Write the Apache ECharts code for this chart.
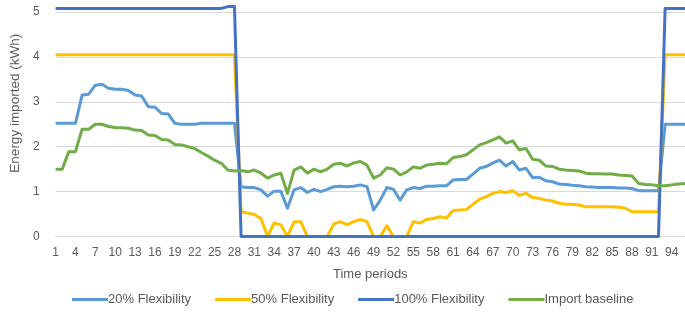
<!DOCTYPE html>
<html>
<head>
<meta charset="utf-8">
<script src="https://cdn.jsdelivr.net/npm/echarts@6/dist/echarts.min.js"></script>
<style>html,body{margin:0;padding:0;background:#fff}#c{width:685px;height:315px}</style>
</head>
<body>
<div id="c"></div>
<script>
const periods = Array.from({length: 96}, (_, i) => String(i + 1));
const yTicks = [0, 1, 2, 3, 4, 5];
const seriesNames = ['20% Flexibility', '50% Flexibility', '100% Flexibility', 'Import baseline'];

const flex20 = [
  2.52, 2.52, 2.52, 2.52, 3.15, 3.17, 3.37, 3.39, 3.30, 3.28,
  3.28, 3.25, 3.15, 3.13, 2.89, 2.88, 2.74, 2.73, 2.52, 2.50,
  2.50, 2.50, 2.52, 2.52, 2.52, 2.52, 2.52, 2.52, 1.11, 1.09,
  1.09, 1.04, 0.90, 1.01, 1.01, 0.63, 1.04, 1.09, 0.98, 1.05,
  1.00, 1.05, 1.11, 1.12, 1.11, 1.12, 1.15, 1.11, 0.59, 0.81,
  1.09, 1.05, 0.81, 1.04, 1.09, 1.07, 1.12, 1.12, 1.13, 1.13,
  1.26, 1.27, 1.27, 1.39, 1.52, 1.56, 1.64, 1.70, 1.57, 1.67,
  1.48, 1.52, 1.31, 1.32, 1.24, 1.22, 1.17, 1.16, 1.14, 1.13,
  1.11, 1.10, 1.09, 1.09, 1.09, 1.08, 1.08, 1.07, 1.02, 1.02,
  1.02, 1.02, 2.50, 2.50, 2.50, 2.50
];

const flex50 = [
  4.05, 4.05, 4.05, 4.05, 4.05, 4.05, 4.05, 4.05, 4.05, 4.05,
  4.05, 4.05, 4.05, 4.05, 4.05, 4.05, 4.05, 4.05, 4.05, 4.05,
  4.05, 4.05, 4.05, 4.05, 4.05, 4.05, 4.05, 4.05, 0.55, 0.52,
  0.49, 0.40, 0.00, 0.30, 0.26, 0.00, 0.33, 0.33, 0.00, 0.00,
  0.00, 0.00, 0.28, 0.33, 0.26, 0.33, 0.38, 0.33, 0.00, 0.00,
  0.24, 0.00, 0.00, 0.00, 0.33, 0.30, 0.38, 0.40, 0.44, 0.41,
  0.58, 0.59, 0.60, 0.72, 0.83, 0.89, 0.96, 1.00, 0.98, 1.02,
  0.92, 0.96, 0.87, 0.85, 0.81, 0.79, 0.74, 0.72, 0.72, 0.70,
  0.66, 0.66, 0.66, 0.66, 0.66, 0.65, 0.63, 0.55, 0.55, 0.55,
  0.55, 0.55, 4.05, 4.05, 4.05, 4.05
];

const flex100 = [
  5.08, 5.08, 5.08, 5.08, 5.08, 5.08, 5.08, 5.08, 5.08, 5.08,
  5.08, 5.08, 5.08, 5.08, 5.08, 5.08, 5.08, 5.08, 5.08, 5.08,
  5.08, 5.08, 5.08, 5.08, 5.08, 5.08, 5.12, 5.12, 0, 0,
  0, 0, 0, 0, 0, 0, 0, 0, 0, 0,
  0, 0, 0, 0, 0, 0, 0, 0, 0, 0,
  0, 0, 0, 0, 0, 0, 0, 0, 0, 0,
  0, 0, 0, 0, 0, 0, 0, 0, 0, 0,
  0, 0, 0, 0, 0, 0, 0, 0, 0, 0,
  0, 0, 0, 0, 0, 0, 0, 0, 0, 0,
  0, 0, 5.08, 5.08, 5.08, 5.08
];

const baseline = [
  1.50, 1.50, 1.89, 1.89, 2.39, 2.39, 2.50, 2.50, 2.45, 2.43,
  2.42, 2.41, 2.37, 2.36, 2.26, 2.25, 2.16, 2.15, 2.05, 2.04,
  2.00, 1.96, 1.87, 1.79, 1.70, 1.63, 1.48, 1.46, 1.47, 1.44,
  1.48, 1.41, 1.30, 1.37, 1.41, 0.96, 1.48, 1.55, 1.41, 1.50,
  1.44, 1.50, 1.61, 1.63, 1.57, 1.64, 1.67, 1.59, 1.30, 1.37,
  1.53, 1.50, 1.37, 1.44, 1.55, 1.52, 1.59, 1.61, 1.63, 1.62,
  1.76, 1.78, 1.82, 1.93, 2.04, 2.09, 2.15, 2.22, 2.08, 2.13,
  1.93, 1.96, 1.72, 1.70, 1.57, 1.56, 1.50, 1.48, 1.47, 1.46,
  1.41, 1.40, 1.40, 1.39, 1.39, 1.37, 1.36, 1.35, 1.18, 1.16,
  1.15, 1.13, 1.13, 1.15, 1.17, 1.18
];

const colors = ['#5B9BD5', '#FFC000', '#4472C4', '#70AD47'];
const values = [flex20, flex50, flex100, baseline];

const chart = echarts.init(document.getElementById('c'), null, {renderer: 'canvas'});
const font = 'Liberation Sans';
chart.setOption({
  animation: false,
  color: colors,
  textStyle: {fontFamily: font},
  grid: {left: 55, right: -3, top: 12, bottom: 78.5, containLabel: false},
  legend: {
    data: seriesNames,
    left: 72,
    top: 293,
    padding: 0,
    itemWidth: 36,
    itemHeight: 3,
    itemGap: 24,
    icon: 'rect',
    textStyle: {color: '#595959', fontSize: 13, fontFamily: font, padding: [0, 0, 0, -5]}
  },
  xAxis: {
    type: 'category',
    data: periods,
    boundaryGap: false,
    name: 'Time periods',
    nameLocation: 'middle',
    nameGap: 31,
    nameTextStyle: {color: '#595959', fontSize: 13, fontFamily: font},
    axisLine: {show: true, lineStyle: {color: '#D9D9D9'}},
    axisTick: {show: false},
    axisLabel: {interval: 2, color: '#595959', fontSize: 12, margin: 10, fontFamily: font},
    splitLine: {show: false}
  },
  yAxis: {
    type: 'value',
    min: yTicks[0],
    max: yTicks[yTicks.length - 1],
    interval: 1,
    name: 'Energy imported (kWh)',
    nameLocation: 'middle',
    nameGap: 30,
    nameTextStyle: {color: '#595959', fontSize: 13.5, fontFamily: font, padding: [0, 0, 0, 42]},
    axisLine: {show: false},
    axisTick: {show: false},
    axisLabel: {color: '#595959', fontSize: 12, margin: 16, fontFamily: font},
    splitLine: {lineStyle: {color: '#D9D9D9', width: 1}}
  },
  series: seriesNames.map((n, i) => ({
    name: n,
    type: 'line',
    data: values[i],
    showSymbol: false,
    symbol: 'none',
    clip: false,
    lineStyle: {width: 3, color: colors[i], join: 'round'},
    z: 2 + i
  }))
});
</script>
</body>
</html>
